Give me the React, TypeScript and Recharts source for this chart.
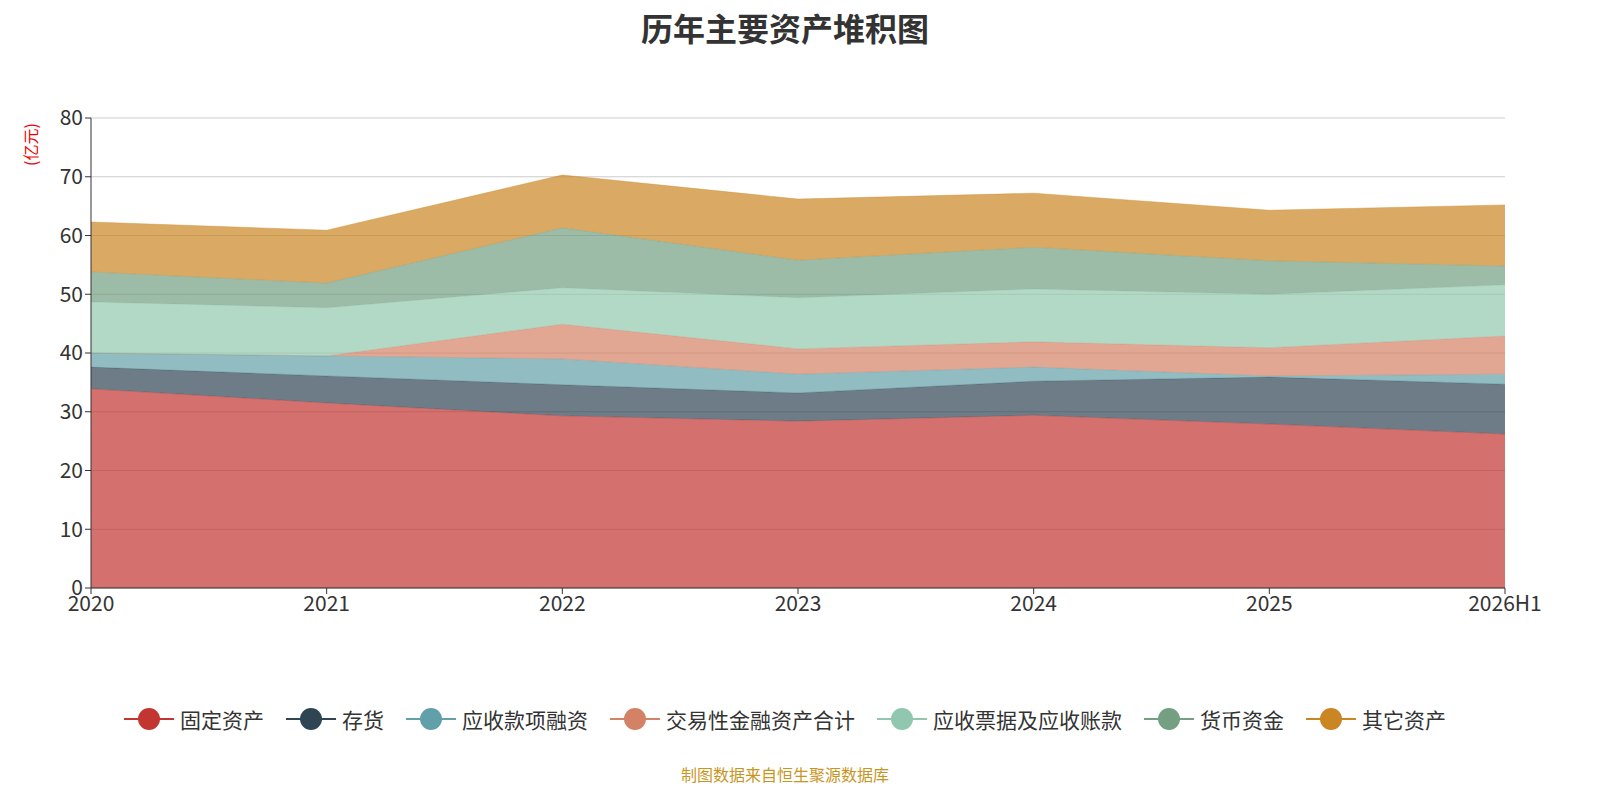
import React from "react";
import { AreaChart, Area, XAxis, YAxis, CartesianGrid } from "recharts";

const years = ["2020", "2021", "2022", "2023", "2024", "2025", "2026H1"];
const fixedAssets = [33.9, 31.5, 29.3, 28.4, 29.4, 27.9, 26.2];
const inventory = [3.7, 4.6, 5.3, 4.8, 5.8, 8.0, 8.5];
const receivableFinancing = [2.4, 3.4, 4.4, 3.2, 2.4, 0.2, 1.7];
const tradingAssets = [0, 0, 5.9, 4.3, 4.3, 4.8, 6.5];
const notesReceivable = [8.7, 8.2, 6.2, 8.7, 9.0, 9.1, 8.7];
const cash = [5.1, 4.2, 10.2, 6.4, 7.1, 5.7, 3.2];
const otherAssets = [8.5, 9.0, 9.0, 10.4, 9.2, 8.6, 10.4];
const yTicks = [0, 10, 20, 30, 40, 50, 60, 70, 80];

const series = [
  { key: "固定资产", values: fixedAssets, color: "#c23531" },
  { key: "存货", values: inventory, color: "#2f4554" },
  { key: "应收款项融资", values: receivableFinancing, color: "#61a0a8" },
  { key: "交易性金融资产合计", values: tradingAssets, color: "#d48265" },
  { key: "应收票据及应收账款", values: notesReceivable, color: "#91c7ae" },
  { key: "货币资金", values: cash, color: "#749f83" },
  { key: "其它资产", values: otherAssets, color: "#ca8622" },
];

const data = years.map((year, i) => {
  const row: Record<string, string | number> = { year };
  series.forEach((s) => (row[s.key] = s.values[i]));
  return row;
});

const App = () => {
  return (
    <div style={{ position: "relative", width: 1600, height: 800, margin: -8, fontFamily: "'Noto Sans CJK SC', 'Noto Sans', sans-serif", background: "#fff" }}>
      <div style={{ position: "absolute", top: 0, left: 0 }}>
        <AreaChart width={1600} height={800} data={data} margin={{ top: 118, right: 95, left: 31, bottom: 162 }}>
          <CartesianGrid vertical={false} stroke="#ccc" />
          <XAxis dataKey="year" stroke="#333" tick={{ fill: "#333", fontSize: 21 }} tickSize={6} height={50} />
          <YAxis domain={[0, 80]} ticks={yTicks} stroke="#333" tick={{ fill: "#333", fontSize: 21 }} width={60} interval={0} />
          {series.map((s) => (
            <Area
              key={s.key}
              type="linear"
              dataKey={s.key}
              stackId="1"
              stroke={s.color}
              strokeOpacity={0.4}
              fill={s.color}
              fillOpacity={0.7}
              dot={false}
              isAnimationActive={false}
            />
          ))}
        </AreaChart>
      </div>
      <div style={{ position: "absolute", top: 4, width: 1570, textAlign: "center", fontSize: 32, fontWeight: "bold", color: "#333" }}>
        历年主要资产堆积图
      </div>
      <div style={{ position: "absolute", left: 18, top: 166, color: "#e00", fontSize: 16, transform: "rotate(-90deg)", transformOrigin: "left top", whiteSpace: "nowrap" }}>
        (亿元)
      </div>
      <div style={{ position: "absolute", top: 704, left: 0, width: 1570, display: "flex", justifyContent: "center", gap: 22, fontSize: 21, color: "#333" }}>
        {series.map((s) => (
          <div key={s.key} style={{ display: "flex", alignItems: "center" }}>
            <svg width={50} height={26} style={{ marginRight: 6 }}>
              <line x1={0} y1={13} x2={50} y2={13} stroke={s.color} strokeWidth={2} />
              <circle cx={25} cy={13} r={11} fill={s.color} />
            </svg>
            <span>{s.key}</span>
          </div>
        ))}
      </div>
      <div style={{ position: "absolute", top: 762, width: 1570, textAlign: "center", fontSize: 16, color: "#c8961e" }}>
        制图数据来自恒生聚源数据库
      </div>
    </div>
  );
};

export default App;
